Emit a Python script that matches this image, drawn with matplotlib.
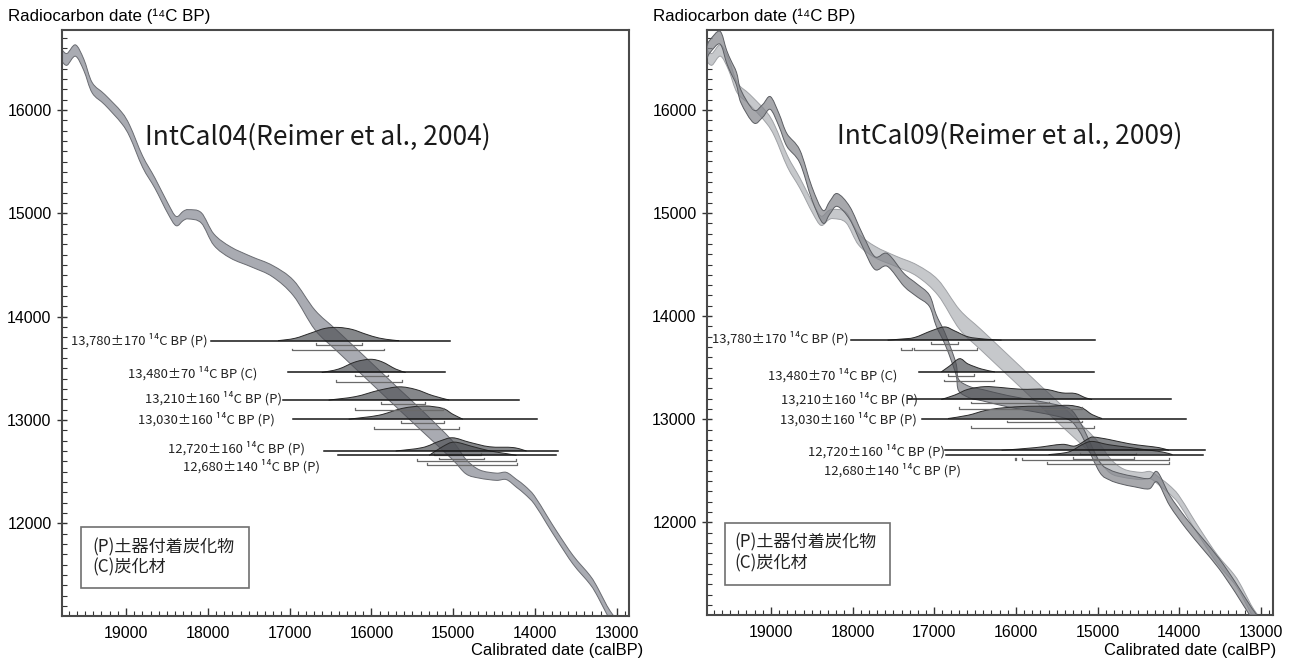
import matplotlib
matplotlib.use('Agg')
import matplotlib.pyplot as plt
from matplotlib.ticker import MultipleLocator
from matplotlib.path import Path
from matplotlib.patches import PathPatch
import numpy as np

# ---------------- data ----------------
# IntCal04 calibration curve (cal BP, 14C BP, half band width)
cal04 = [19782, 19720, 19617, 19515, 19413, 19259, 19054, 18951, 18797, 18645,
         18490, 18388, 18300, 18234, 18079, 17926, 17721, 17465, 17209, 16952,
         16690, 16423, 16021, 15664, 15394, 15015, 14844, 14679, 14474, 14351,
         14228, 14125, 14009, 13855, 13727, 13535, 13328, 13230, 13123, 13040, 12900]
c14_04 = [16525, 16490, 16575, 16436, 16215, 16100, 15925, 15790, 15500, 15290,
          15050, 14925, 14975, 14990, 14955, 14745, 14620, 14530, 14440, 14275,
          13967, 13767, 13467, 13200, 13000, 12710, 12547, 12476, 12450, 12457,
          12386, 12321, 12225, 12031, 11870, 11644, 11450, 11324, 11160, 11060, 10900]
err04 = [57, 57, 55, 55, 50, 50, 55, 55, 55, 50,
         50, 45, 45, 45, 50, 55, 55, 50, 55, 75,
         95, 100, 100, 100, 100, 90, 70, 40, 35, 35,
         38, 40, 40, 40, 40, 42, 42, 42, 42, 42, 42]

# IntCal09 calibration curve
cal09 = [19782, 19746, 19623, 19543, 19491, 19420, 19366, 19210, 19100, 19006,
         18900, 18804, 18645, 18499, 18364, 18280, 18187, 18034, 17880, 17728,
         17573, 17369, 17215, 17060, 16977, 16873, 16790, 16730, 16700, 16560,
         16408, 16100, 15779, 15500, 15330, 15225, 15149, 14973, 14850, 14721,
         14550, 14369, 14269, 14119, 13917, 13716, 13515, 13313, 13111, 12950]
c14_09 = [16560, 16615, 16700, 16518, 16421, 16300, 16129, 15935, 15990, 16066,
          15900, 15708, 15547, 15194, 14964, 15050, 15126, 14999, 14738, 14515,
          14544, 14350, 14252, 14150, 13961, 13790, 13620, 13476, 13330, 13260,
          13233, 13175, 13128, 13085, 13040, 12934, 12821, 12534, 12460, 12424,
          12395, 12375, 12440, 12214, 11990, 11796, 11602, 11369, 11117, 10950]
err09 = [62] * 23 + [55] * 12 + [50] * 15

# samples
sample_labels = ["13,780\u00b1170 \u00b9\u2074C BP (P)", "13,480\u00b170 \u00b9\u2074C BP (C)",
                 "13,210\u00b1160 \u00b9\u2074C BP (P)", "13,030\u00b1160 \u00b9\u2074C BP (P)",
                 "12,720\u00b1160 \u00b9\u2074C BP (P)", "12,680\u00b1140 \u00b9\u2074C BP (P)"]
sample_c14 = [13767, 13459, 13192, 13007, 12699, 12657]

# --- IntCal04 results (left) ---
line04 = [(17961, 15039), (17026, 15100), (17081, 14196), (16964, 13975), (16579, 13715), (16410, 13743)]
dist04_cal = [
    [17142, 16935, 16730, 16567, 16402, 16237, 16073, 15909, 15748, 15663],
    [16608, 16403, 16197, 16012, 15869, 15704, 15582],
    [16524, 16197, 15909, 15663, 15458, 15253, 15048],
    [16279, 15909, 15622, 15357, 15130, 15008, 14884],
    [15704, 15377, 15171, 15008, 14802, 14556, 14269, 14105],
    [15295, 15130, 14987, 14761, 14556, 14351, 14228],
]
dist04_p = [
    [0.0, 0.18, 0.6, 0.93, 1.0, 0.85, 0.5, 0.2, 0.05, 0.0],
    [0.0, 0.26, 0.8, 1.0, 0.8, 0.26, 0.0],
    [0.0, 0.26, 0.74, 1.0, 0.8, 0.34, 0.0],
    [0.0, 0.3, 0.82, 1.0, 0.82, 0.38, 0.0],
    [0.0, 0.26, 0.74, 1.0, 0.66, 0.32, 0.26, 0.0],
    [0.0, 0.66, 1.0, 0.66, 0.34, 0.13, 0.0],
]
sig1_04 = [[(16681, 16115)], [(16198, 15797)], [(15889, 15345)], [(15643, 15117)],
           [(15234, 14659)], [(15171, 14630)]]
sig2_04 = [[(16971, 15846)], [(16436, 15623)], [(16197, 15130)], [(15971, 14925)],
           [(15446, 14228)], [(15323, 14220)]]

# --- IntCal09 results (right) ---
line09 = [(18022, 15035), (17190, 15048), (17325, 14104), (17154, 13919), (16873, 13682), (16853, 13714)]
dist09_cal = [
    [17571, 17407, 17242, 17038, 16873, 16750, 16586, 16381, 16176],
    [16914, 16812, 16690, 16586, 16422, 16258],
    [16914, 16750, 16586, 16381, 16176, 15930, 15643, 15438, 15274, 15150, 15068],
    [16832, 16586, 16381, 16176, 15847, 15601, 15356, 15191, 15068, 14945],
    [16176, 15765, 15438, 15274, 15109, 15048, 14863, 14617, 14412, 14248, 14125],
    [15601, 15356, 15191, 15068, 14863, 14617, 14412, 14207, 14084],
]
dist09_p = [
    [0.0, 0.08, 0.2, 0.7, 1.0, 0.7, 0.25, 0.08, 0.0],
    [0.0, 0.45, 1.0, 0.6, 0.22, 0.0],
    [0.0, 0.33, 0.77, 0.97, 0.9, 0.77, 0.77, 0.5, 0.45, 0.13, 0.0],
    [0.0, 0.25, 0.6, 0.8, 0.93, 0.93, 1.0, 0.8, 0.3, 0.0],
    [0.0, 0.2, 0.45, 0.33, 0.9, 1.0, 0.82, 0.5, 0.33, 0.2, 0.0],
    [0.0, 0.2, 0.75, 1.0, 0.75, 0.55, 0.37, 0.2, 0.0],
]
sig1_09 = [[(17045, 16709)], [(16832, 16512)], [(16545, 15601)], [(16115, 15191)],
           [(15211, 14535)], [(15300, 14560)]]
sig2_09 = [[(17407, 17272), (17242, 16471)], [(16881, 16267)], [(16697, 15191)],
           [(16554, 15048)], [(16012, 16000), (15930, 14125)], [(15622, 14125)]]

# label anchors (right edge cal BP, 14C BP)
lab04_pos = [(18001, 13767), (17399, 13454), (17093, 13212), (17178, 13010), (16812, 12728), (16628, 12547)]
lab09_pos = [(18046, 13783), (17447, 13427), (17203, 13195), (17215, 12995), (16873, 12692), (16669, 12508)]

titles = ["IntCal04(Reimer et al., 2004)", "IntCal09(Reimer et al., 2009)"]
legend_lines = ["(P)\u571f\u5668\u4ed8\u7740\u70ad\u5316\u7269", "(C)\u70ad\u5316\u6750"]

# ---------------- figure ----------------
W, H = 1291, 666
fig = plt.figure(figsize=(W / 100, H / 100), dpi=100)
JP = ['Noto Sans CJK JP', 'DejaVu Sans']
SANS = ['Liberation Sans', 'DejaVu Sans']


def px_axes(l, t, r, b):
    return fig.add_axes([l / W, 1 - b / H, (r - l) / W, (b - t) / H])


def smooth_verts(xs, ys):
    """Catmull-Rom through the read points, rendered as cubic Bezier segments."""
    P = np.column_stack([np.asarray(xs, float), np.asarray(ys, float)])
    n = len(P)
    verts = [P[0]]
    codes = [Path.MOVETO]
    for i in range(n - 1):
        p0 = P[i - 1] if i > 0 else P[i]
        p1 = P[i]
        p2 = P[i + 1]
        p3 = P[i + 2] if i + 2 < n else P[i + 1]
        verts += [p1 + (p2 - p0) / 6.0, p2 - (p3 - p1) / 6.0, p2]
        codes += [Path.CURVE4] * 3
    return verts, codes


def band(ax, cal, c, e, fc, ec, alpha, z, lw=0.7):
    cal = np.asarray(cal, float); c = np.asarray(c, float); e = np.asarray(e, float)
    uv, uc = smooth_verts(cal, c + e)
    lv, lc = smooth_verts(cal[::-1], (c - e)[::-1])
    lc[0] = Path.LINETO
    verts = uv + lv + [uv[0]]
    codes = uc + lc + [Path.CLOSEPOLY]
    ax.add_patch(PathPatch(Path(verts, codes), facecolor=fc, edgecolor='none', alpha=alpha, zorder=z))
    for vv, cc in [(uv, uc), (lv, [Path.MOVETO] + lc[1:])]:
        ax.add_patch(PathPatch(Path(vv, cc), facecolor='none', edgecolor=ec, lw=lw, zorder=z + 0.1))


def draw_samples(ax, lines, dcal, dp, s1, s2, labpos):
    hgt = 128
    for i in range(len(sample_c14)):
        base = sample_c14[i]
        xs = np.asarray(dcal[i], float)
        ys = base + np.asarray(dp[i], float) * hgt
        tv, tc = smooth_verts(xs, ys)
        verts = tv + [(xs[-1], base), (xs[0], base), tv[0]]
        codes = tc + [Path.LINETO, Path.LINETO, Path.CLOSEPOLY]
        ax.add_patch(PathPatch(Path(verts, codes), facecolor='#4c4e53', alpha=0.68,
                               edgecolor='none', zorder=4))
        ax.add_patch(PathPatch(Path(tv, tc), facecolor='none', edgecolor='#2a2a2a', lw=0.7, zorder=4.5))
        a, b = lines[i]
        ax.plot([a, b], [base, base], color='#151515', lw=1.1, zorder=5)
        for (p, q) in s1[i]:
            y = base - 38
            ax.plot([p, p, q, q], [y + 16, y, y, y + 16], color='#6a6a6a', lw=0.9, zorder=5)
        for (p, q) in s2[i]:
            y = base - 92
            ax.plot([p, p, q, q], [y + 16, y, y, y + 16], color='#6a6a6a', lw=0.9, zorder=5)
        lx, ly = labpos[i]
        ax.text(lx, ly, sample_labels[i], ha='right', va='center', fontsize=9.4,
                family=JP, color='#222222', zorder=6)


def style_axes(ax):
    ax.set_xlim(19782, 12853)
    ax.set_ylim(11102, 16774)
    ax.xaxis.set_major_locator(MultipleLocator(1000))
    ax.xaxis.set_minor_locator(MultipleLocator(100))
    ax.yaxis.set_major_locator(MultipleLocator(1000))
    ax.yaxis.set_minor_locator(MultipleLocator(100))
    for sp in ax.spines.values():
        sp.set_color('#4a4a4a')
        sp.set_linewidth(1.5)
    ax.tick_params(axis='x', which='major', direction='in', length=6, width=1.0,
                   color='#333333', pad=7, labelsize=11.4)
    ax.tick_params(axis='x', which='minor', direction='in', length=3.3, width=0.8, color='#333333')
    ax.tick_params(axis='y', which='major', direction='inout', length=7, width=1.0,
                   color='#333333', pad=4, labelsize=11.4)
    ax.tick_params(axis='y', which='minor', direction='in', length=3.5, width=0.8, color='#333333')
    ax.tick_params(top=False, right=False, which='both')
    for lab in ax.get_xticklabels() + ax.get_yticklabels():
        lab.set_family(SANS)


# left panel
axL = px_axes(62, 30, 629, 616)
style_axes(axL)
band(axL, cal04, c14_04, err04, '#a9abb2', '#6a6c72', 1.0, 2)
draw_samples(axL, line04, dist04_cal, dist04_p, sig1_04, sig2_04, lab04_pos)
axL.text(18768, 15739, titles[0], ha='left', va='center', fontsize=19, family=JP, color='#1a1a1a')

# right panel
axR = px_axes(707, 30, 1273, 615)
style_axes(axR)
band(axR, cal04, c14_04, err04, '#c6c8cb', '#a0a2a6', 1.0, 2)
band(axR, cal09, c14_09, err09, '#85878d', '#5c5e63', 0.72, 3)
draw_samples(axR, line09, dist09_cal, dist09_p, sig1_09, sig2_09, lab09_pos)
axR.text(18187, 15742, titles[1], ha='left', va='center', fontsize=19, family=JP, color='#1a1a1a')

# legend boxes
for (l, t, r, b), (ty1, ty2), tx in [((81, 527, 249, 588), (547, 567), 92),
                                     ((725, 523, 890, 585), (542, 563), 734)]:
    rect = plt.Rectangle((l / W, 1 - b / H), (r - l) / W, (b - t) / H, transform=fig.transFigure,
                         facecolor='white', edgecolor='#707070', lw=1.2, zorder=10)
    fig.patches.append(rect)
    fig.text(tx / W, 1 - ty1 / H, legend_lines[0], ha='left', va='center', fontsize=12.3,
             family=JP, color='#222222', zorder=11)
    fig.text(tx / W, 1 - ty2 / H, legend_lines[1], ha='left', va='center', fontsize=12.3,
             family=JP, color='#222222', zorder=11)

# axis titles
for x0 in (8, 653):
    fig.text(x0 / W, 1 - 16 / H, "Radiocarbon date (\u00b9\u2074C BP)", ha='left', va='center',
             fontsize=12.2, family=SANS)
for x1 in (643, 1276):
    fig.text(x1 / W, 1 - 650 / H, "Calibrated date (calBP)", ha='right', va='center',
             fontsize=11.9, family=SANS)

fig.savefig('out.png', dpi=100, facecolor='white')
